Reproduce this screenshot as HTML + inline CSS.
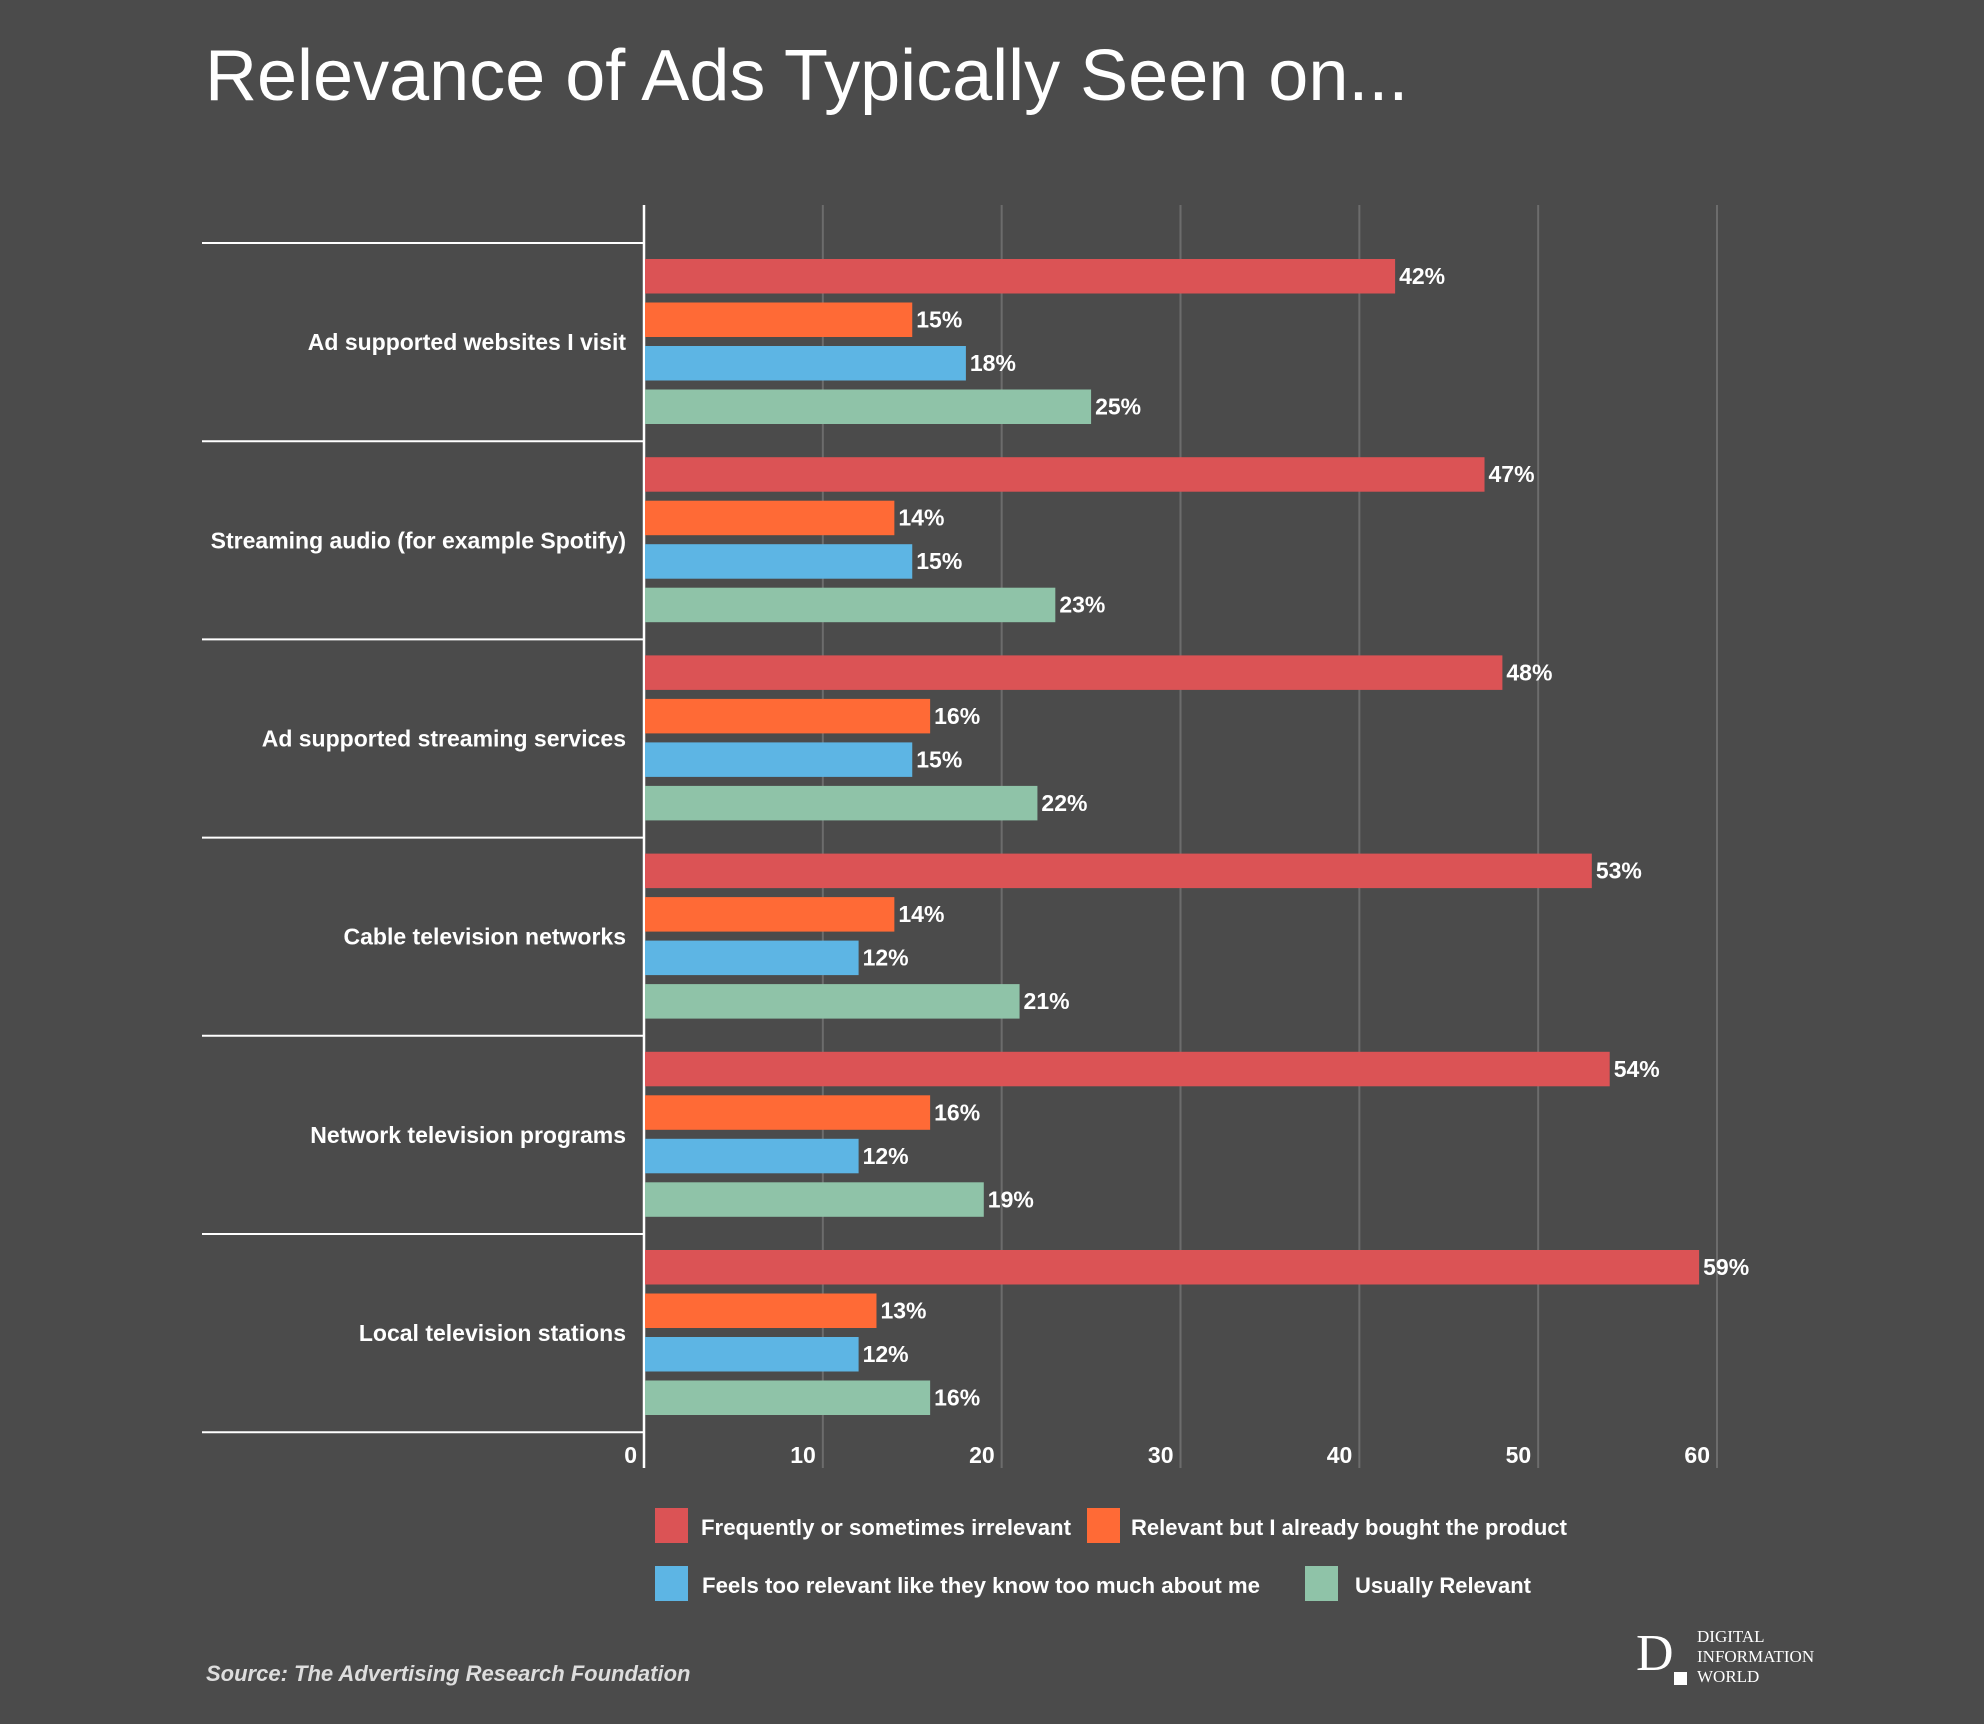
<!DOCTYPE html>
<html><head><meta charset="utf-8"><style>
html,body{margin:0;padding:0;background:#4b4b4b;}
svg{display:block;font-family:"Liberation Sans",sans-serif;}
</style></head><body>
<svg id="chart" width="1984" height="1724" viewBox="0 0 1984 1724">
<rect width="1984" height="1724" fill="#4b4b4b"/>
<text x="205" y="100" font-size="72" fill="#fff">Relevance of Ads Typically Seen on...</text>
<g id="grid"></g><g id="bars"></g>
<g id="legend"></g>
<text x="206" y="1681" font-size="22" font-style="italic" font-weight="bold" fill="#ddd">Source:  The Advertising Research Foundation</text>
<g>
<text x="1636" y="1670" font-family="Liberation Serif,serif" font-size="52" fill="#fff">D</text>
<rect x="1674" y="1672" width="13" height="13" fill="#fff"/>
<text font-family="Liberation Serif,serif" font-size="17" fill="#fff"><tspan x="1697" y="1642">DIGITAL</tspan><tspan x="1697" y="1662">INFORMATION</tspan><tspan x="1697" y="1682">WORLD</tspan></text>
</g>
</svg>
<script>
const categories=["Ad supported websites I visit","Streaming audio (for example Spotify)","Ad supported streaming services","Cable television networks","Network television programs","Local television stations"];
const seriesNames=["Frequently or sometimes irrelevant","Relevant but I already bought the product","Feels too relevant like they know too much about me","Usually Relevant"];
const irrelevant=[42,47,48,53,54,59];
const alreadyBought=[15,14,16,14,16,13];
const tooRelevant=[18,15,15,12,12,12];
const usuallyRelevant=[25,23,22,21,19,16];
const ticks=[0,10,20,30,40,50,60];
const series=[irrelevant,alreadyBought,tooRelevant,usuallyRelevant];
const colors=["#db5355","#ff6a36","#5db5e4","#8fc3a8"];
const NS="http://www.w3.org/2000/svg";
const X0=644,X1=1717,TOP=205,BOT=1468,G0=243,GP=198.2;
const x=v=>X0+(v/60)*(X1-X0);
function mk(t,a,p){const e=document.createElementNS(NS,t);for(const k in a)e.setAttribute(k,a[k]);p.appendChild(e);return e;}
const grid=document.getElementById('grid'),bars=document.getElementById('bars'),leg=document.getElementById('legend');
ticks.forEach(t=>{
 if(t>0){const l=mk('line',{x1:x(t),x2:x(t),y1:TOP,y2:BOT,stroke:'#6c6c6c','stroke-width':2},grid);
 
 }
 const tx=mk('text',{x:x(t)-7,y:1463,'font-size':23,'font-weight':'bold',fill:'#fff','text-anchor':'end'},grid);
 tx.textContent=t;
 
 
});
const ax=mk('line',{x1:X0,x2:X0,y1:TOP,y2:BOT,stroke:'#fff','stroke-width':2.5},grid);


for(let i=0;i<=categories.length;i++){
 const d=mk('line',{x1:202,x2:X0,y1:G0+i*GP,y2:G0+i*GP,stroke:'#fff','stroke-width':2},grid);
 
 
}
categories.forEach((c,i)=>{
 const gy=G0+i*GP;
 const lab=mk('text',{x:626,y:gy+GP/2+8,'font-size':23,'font-weight':'bold',fill:'#fff','text-anchor':'end'},bars);
 lab.textContent=c;
 
 
 series.forEach((s,j)=>{
  const y=gy+16+j*43.5;
  const r=mk('rect',{x:X0+1,y:y,width:x(s[i])-X0-1,height:34.5,fill:colors[j]},bars);
  
  
  const v=mk('text',{x:x(s[i])+4,y:y+25,'font-size':23,'font-weight':'bold',fill:'#fff'},bars);
  v.textContent=s[i]+'%';
  
  
 });
});
const lp=[[655,1508,701,370],[1087,1508,1131,436],[655,1566,702,558],[1305,1566,1355,176]];
seriesNames.forEach((n,j)=>{
 const [sx,sy,tx,tl]=lp[j];
 const g=mk('g',{},leg);
 
 
 mk('rect',{x:sx,y:sy,width:33,height:35,fill:colors[j]},g);
 const t=mk('text',{x:tx,y:sy+27,'font-size':22,'font-weight':'bold',fill:'#fff',textLength:tl,lengthAdjust:'spacingAndGlyphs'},g);
 t.textContent=n;
});
</script>
</body></html>
